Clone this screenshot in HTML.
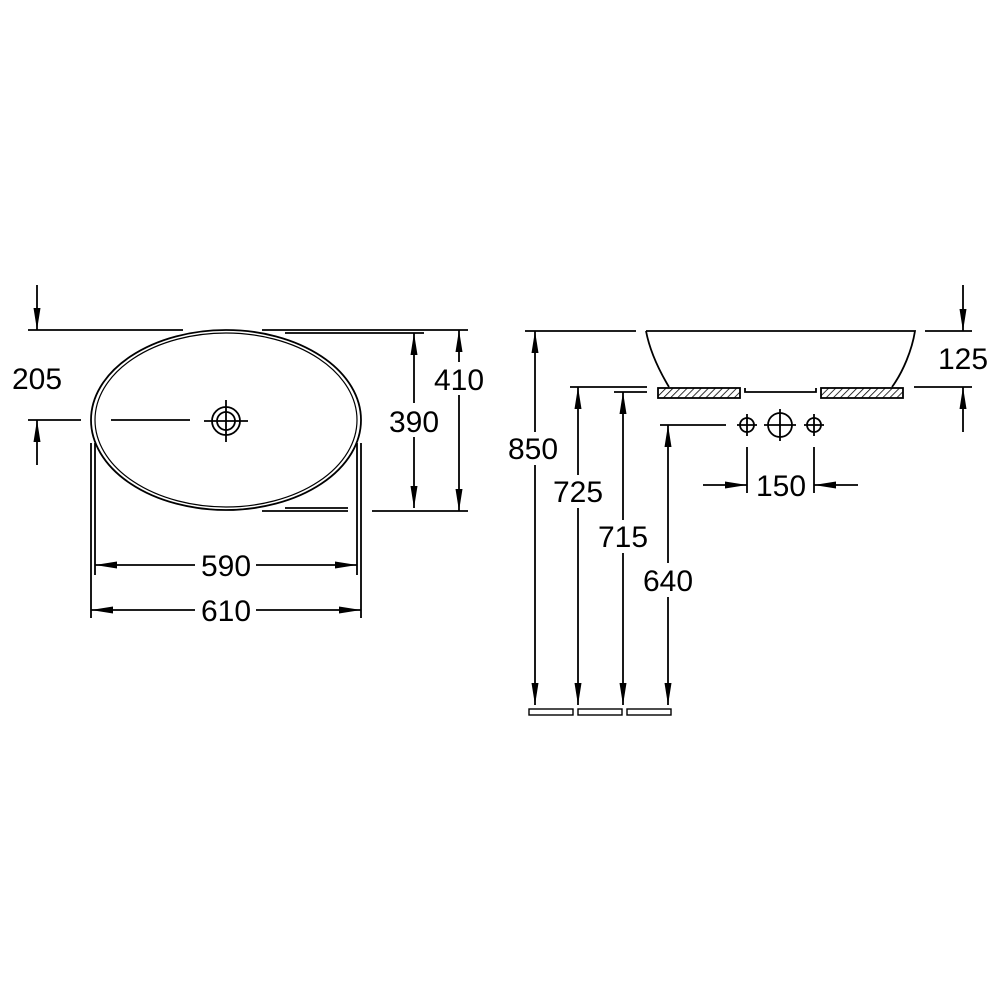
<!DOCTYPE html>
<html><head><style>html,body{margin:0;padding:0;background:#fff}</style></head><body>
<svg width="1000" height="1000" viewBox="0 0 1000 1000" xmlns="http://www.w3.org/2000/svg">
<defs>
<marker id="b" viewBox="0 0 20 10" refX="20" refY="5" markerWidth="22" markerHeight="7" markerUnits="userSpaceOnUse" orient="auto-start-reverse" preserveAspectRatio="none"><path d="M0,0 L20,5 L0,10 z" fill="#000"/></marker>
<pattern id="h" width="5" height="5" patternUnits="userSpaceOnUse" patternTransform="rotate(45)"><line x1="0" y1="0" x2="0" y2="5" stroke="#000" stroke-width="1.6"/></pattern>
</defs>
<g stroke="#000" stroke-width="1.8" fill="none">
<line x1="28" y1="330" x2="183" y2="330"/><line x1="262" y1="330" x2="468" y2="330"/>
<line x1="285" y1="333" x2="424" y2="333"/>
<line x1="285" y1="508" x2="348" y2="508"/>
<line x1="262" y1="511" x2="348" y2="511"/><line x1="372" y1="511" x2="468" y2="511"/>
<ellipse cx="226" cy="420" rx="135" ry="90"/>
<ellipse cx="226" cy="420" rx="131" ry="87" stroke-width="1.2"/>
<circle cx="226" cy="421" r="14"/><circle cx="226" cy="421" r="9"/>
<line x1="204" y1="421" x2="248" y2="421"/><line x1="226" y1="400" x2="226" y2="442"/>
<line x1="28" y1="420" x2="81" y2="420"/><line x1="111" y1="420" x2="190" y2="420"/>
<line x1="37" y1="285" x2="37" y2="330" marker-end="url(#b)"/>
<line x1="37" y1="465" x2="37" y2="420" marker-end="url(#b)"/>
<line x1="91" y1="443" x2="91" y2="618"/><line x1="95" y1="443" x2="95" y2="575"/>
<line x1="357" y1="443" x2="357" y2="575"/><line x1="361" y1="443" x2="361" y2="618"/>
<line x1="95" y1="565" x2="195" y2="565" marker-start="url(#b)"/><line x1="256" y1="565" x2="357" y2="565" marker-end="url(#b)"/>
<line x1="91" y1="610" x2="195" y2="610" marker-start="url(#b)"/><line x1="256" y1="610" x2="361" y2="610" marker-end="url(#b)"/>
<line x1="414" y1="333" x2="414" y2="403" marker-start="url(#b)"/><line x1="414" y1="437" x2="414" y2="508" marker-end="url(#b)"/>
<line x1="459" y1="330" x2="459" y2="362" marker-start="url(#b)"/><line x1="459" y1="395" x2="459" y2="511" marker-end="url(#b)"/>
<line x1="525" y1="331" x2="636" y2="331"/>
<path d="M646,331 L915,331 C912,350 903,372 892,387 M646,331 C650,352 660,372 669,387"/>
<line x1="925" y1="331" x2="972" y2="331"/>
<rect x="658" y="388" width="82" height="10" fill="url(#h)"/>
<rect x="821" y="388" width="82" height="10" fill="url(#h)"/>
<path d="M745,388 L745,392 L816,392 L816,388"/>
<line x1="570" y1="387" x2="647" y2="387"/><line x1="614" y1="392" x2="647" y2="392"/>
<line x1="914" y1="387" x2="972" y2="387"/>
<line x1="963" y1="285" x2="963" y2="331" marker-end="url(#b)"/>
<line x1="963" y1="432" x2="963" y2="387" marker-end="url(#b)"/>
<line x1="535" y1="331" x2="535" y2="432" marker-start="url(#b)"/><line x1="535" y1="465" x2="535" y2="705" marker-end="url(#b)"/>
<line x1="578" y1="387" x2="578" y2="475" marker-start="url(#b)"/><line x1="578" y1="508" x2="578" y2="705" marker-end="url(#b)"/>
<line x1="623" y1="392" x2="623" y2="520" marker-start="url(#b)"/><line x1="623" y1="553" x2="623" y2="705" marker-end="url(#b)"/>
<line x1="668" y1="425" x2="668" y2="563" marker-start="url(#b)"/><line x1="668" y1="597" x2="668" y2="705" marker-end="url(#b)"/>
<line x1="660" y1="425" x2="726" y2="425"/>
<circle cx="747" cy="425" r="7"/><line x1="737" y1="425" x2="757" y2="425"/><line x1="747" y1="414" x2="747" y2="436"/>
<circle cx="780" cy="425" r="12"/><line x1="764" y1="425" x2="796" y2="425"/><line x1="780" y1="409" x2="780" y2="441"/>
<circle cx="814" cy="425" r="7"/><line x1="804" y1="425" x2="824" y2="425"/><line x1="814" y1="414" x2="814" y2="436"/>
<line x1="747" y1="447" x2="747" y2="493"/><line x1="814" y1="447" x2="814" y2="493"/>
<line x1="703" y1="485" x2="747" y2="485" marker-end="url(#b)"/>
<line x1="858" y1="485" x2="814" y2="485" marker-end="url(#b)"/>
<rect x="529" y="709" width="44" height="6" stroke-width="1.4"/>
<rect x="578" y="709" width="44" height="6" stroke-width="1.4"/>
<rect x="627" y="709" width="44" height="6" stroke-width="1.4"/>
</g>
<g font-family="Liberation Sans, sans-serif" font-size="30" fill="#000" text-anchor="middle">
<text x="37" y="389">205</text>
<text x="226" y="576">590</text>
<text x="226" y="621">610</text>
<text x="414" y="432">390</text>
<text x="459" y="390">410</text>
<text x="963" y="369">125</text>
<text x="533" y="459">850</text>
<text x="578" y="502">725</text>
<text x="623" y="547">715</text>
<text x="668" y="591">640</text>
<text x="781" y="496">150</text>
</g>
</svg>
</body></html>
